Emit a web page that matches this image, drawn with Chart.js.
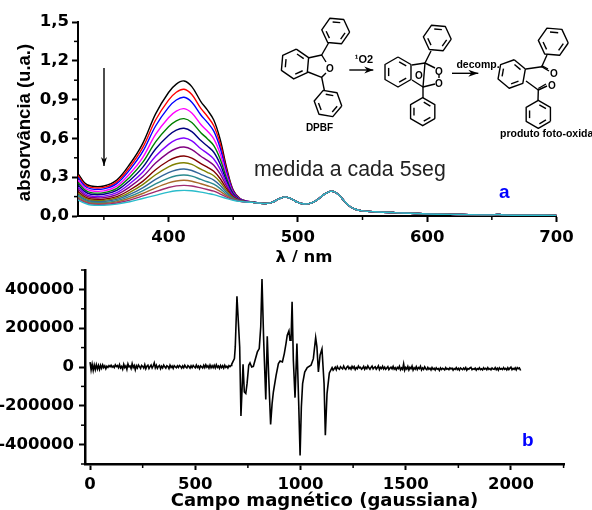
<!DOCTYPE html>
<html><head><meta charset="utf-8">
<style>html,body{margin:0;padding:0;background:#fff}
#w{position:relative;width:592px;height:510px;overflow:hidden}
canvas{position:absolute;left:0}</style>
<script src="https://cdn.jsdelivr.net/npm/chart.js@4"></script></head>
<body><div id="w"><canvas id="a" width="592" height="262" style="top:0"></canvas>
<canvas id="b" width="592" height="270" style="top:240px"></canvas></div>
<script>
// ---- panel a ----
const lambdaHead=[330,335,340,350,360,370,380,390,400,406,412,418,425,430,435,440,445,450,455,460,465];
const lambdaTail=[470,475,480,485,490,495,500,505,510,515,520,525,528,532,536,540,545,550,560,575,600,625,650,655,660,680,700];
const absTail=[.100,.097,.105,.130,.148,.133,.105,.093,.100,.125,.165,.190,.188,.160,.115,.075,.050,.040,.033,.026,.016,.012,.009,.012,.008,.006,.005];
const sBlack=[.330,.258,.232,.232,.278,.400,.560,.790,.955,1.020,1.044,1.000,.885,.820,.742,.590,.370,.200,.137,.116,.108];
const sRed=[.314,.246,.221,.221,.264,.378,.528,.742,.896,.957,.980,.939,.832,.771,.698,.557,.352,.194,.135,.115,.108];
const sBlue=[.299,.234,.210,.210,.250,.357,.497,.696,.840,.897,.918,.880,.781,.724,.656,.524,.335,.188,.133,.115,.108];
const sMagenta=[.278,.218,.195,.194,.231,.327,.452,.631,.760,.811,.830,.796,.708,.657,.596,.479,.311,.180,.131,.114,.107];
const sGreen=[.259,.204,.181,.181,.214,.300,.414,.573,.690,.736,.753,.723,.644,.598,.544,.439,.289,.173,.129,.113,.107];
const sNavy=[.241,.190,.168,.168,.198,.275,.376,.518,.622,.664,.678,.652,.583,.541,.493,.400,.268,.166,.127,.113,.107];
const sViolet=[.223,.176,.155,.154,.181,.249,.339,.462,.554,.590,.603,.581,.520,.484,.441,.361,.248,.159,.125,.112,.106];
const sPurple=[.206,.163,.143,.142,.166,.225,.303,.409,.490,.522,.533,.514,.462,.430,.393,.324,.228,.153,.123,.111,.106];
const sWine=[.189,.150,.131,.130,.150,.201,.268,.358,.427,.454,.464,.448,.405,.378,.346,.288,.209,.146,.121,.111,.106];
const sOlive=[.176,.140,.122,.121,.139,.183,.243,.319,.380,.404,.412,.399,.362,.338,.311,.261,.194,.142,.119,.110,.106];
const sRoyal=[.164,.131,.114,.112,.128,.167,.218,.283,.335,.356,.363,.352,.322,.301,.278,.236,.181,.137,.118,.110,.106];
const sTeal=[.153,.122,.106,.104,.118,.151,.195,.248,.293,.311,.317,.308,.283,.265,.246,.212,.168,.133,.116,.109,.105];
const sBrown=[.143,.115,.099,.097,.109,.137,.174,.218,.256,.271,.276,.269,.249,.234,.218,.190,.157,.129,.115,.109,.105];
const sMaroon=[.133,.107,.092,.090,.101,.123,.155,.189,.220,.233,.237,.232,.217,.205,.192,.170,.146,.126,.114,.108,.105];
const sCyan=[.124,.100,.085,.083,.092,.110,.135,.160,.185,.195,.198,.195,.185,.175,.165,.150,.135,.122,.113,.108,.105];
const seriesA=[sBlack,sRed,sBlue,sMagenta,sGreen,sNavy,sViolet,sPurple,sWine,sOlive,sRoyal,sTeal,sBrown,sMaroon,sCyan];
const coloursA=['#000000','#ff0000','#0000ff','#ff00ff','#008000','#000080','#8000ff','#800080','#800000','#808000','#336699','#2a8a8f','#a86a2a','#a02a70','#2abccb'];
const aXTicks=[400,500,600,700], aXMinor=[350,450,550,650];
const aYTicks=[0,.3,.6,.9,1.2,1.5], aYMinor=[.15,.45,.75,1.05,1.35];
// ---- panel b ----
const campoLeft=[0,5,10,15,20,25,30,35,40,45,50,55,60,65,70,75,80,85,90,95,100,105,110,115,120,125,130,135,140,145,150,155,160,165,170,175,180,185,190,195,200,205,210,215,220,225,230,235,240,245,250,255,260,265,270,275,280,285,290,295,300,305,310,315,320,325,330,335,340,345,350,355,360,365,370,375,380,385,390,395,400,405,410,415,420,425,430,435,440,445,450,455,460,465,470,475,480,485,490,495,500,505,510,515,520,525,530,535,540,545,550,555,560,565,570,575,580,585,590,595,600,605,610,615,620,625,630,635,640,645,650,655,660,665,670];
const signalLeft=[25000,-15000,14000,-17000,10000,-13000,12000,-10000,8000,-12000,9000,-6000,11000,-3000,6000,-9000,4000,-2000,7000,1000,9000,-1000,5000,-3000,11000,2000,7000,-4000,12000,-5000,3000,-11000,14000,-3000,6000,-12000,16000,1000,5000,-8000,17000,-3000,8000,-14000,6000,-5000,10000,2000,-7000,8000,3000,-6000,12000,-9000,4000,9000,-8000,2000,10000,-5000,5000,21000,-4000,9000,-7000,3000,8000,-9000,4000,-5000,10000,1000,-6000,7000,3000,-8000,9000,-2000,5000,-7000,7000,1000,-4000,6000,-2000,8000,3000,-6000,5000,-4000,9000,0,-5000,7000,2000,-6000,6000,-3000,8000,1000,-4000,10000,-2000,5000,-8000,6000,1000,-5000,9000,-3000,11000,-1000,6000,-6000,10000,-4000,7000,-3000,9000,-5000,11000,-2000,5000,-7000,8000,-3000,6000,-6000,9000,-2000,4000,-5000,7000,2000,8000];
const campoPeak=[673,686,690,698,706,711,717,724,727,733,740,746,754,760,768,776,784,795,804,811,817,825,835,842,849,858,865,871,884,895,903,914,923,931,937,945,950,955,960,966,974,983,991,998,1004,1010,1020,1032,1050,1061,1072,1078,1085,1093,1102,1112,1118,1126,1137,1150];
const signalPeak=[14000,43000,103500,365000,207000,103500,-252500,-68500,14000,-129000,-137000,-86000,9000,21000,300,3700,34700,77700,95000,207000,454000,138000,-168000,158500,-51000,-296000,-189000,-129000,-43000,17500,31000,26000,69000,120700,163700,186000,138000,138000,335700,34700,-158000,120700,-172000,-455500,-206000,-86000,-26000,-3000,9000,43000,151700,103500,-26000,60500,93000,-86000,-352000,-137000,-31000,-3000];
const campoRight=[1155,1160,1165,1170,1175,1180,1185,1190,1195,1200,1205,1210,1215,1220,1225,1230,1235,1240,1245,1250,1255,1260,1265,1270,1275,1280,1285,1290,1295,1300,1305,1310,1315,1320,1325,1330,1335,1340,1345,1350,1355,1360,1365,1370,1375,1380,1385,1390,1395,1400,1405,1410,1415,1420,1425,1430,1435,1440,1445,1450,1455,1460,1465,1470,1475,1480,1485,1490,1495,1500,1505,1510,1515,1520,1525,1530,1535,1540,1545,1550,1555,1560,1565,1570,1575,1580,1585,1590,1595,1600,1605,1610,1615,1620,1625,1630,1635,1640,1645,1650,1655,1660,1665,1670,1675,1680,1685,1690,1695,1700,1705,1710,1715,1720,1725,1730,1735,1740,1745,1750,1755,1760,1765,1770,1775,1780,1785,1790,1795,1800,1805,1810,1815,1820,1825,1830,1835,1840,1845,1850,1855,1860,1865,1870,1875,1880,1885,1890,1895,1900,1905,1910,1915,1920,1925,1930,1935,1940,1945,1950,1955,1960,1965,1970,1975,1980,1985,1990,1995,2000,2005,2010,2015,2020,2025,2030,2035,2040,2046];
const signalRight=[-16000,-9000,-1000,-14000,2000,-8000,-12000,1000,-5000,-10000,5000,-7000,-12000,-1000,4000,-9000,-2000,-11000,3000,-6000,2000,-13000,-3000,-9000,5000,-5000,-2000,-11000,-6000,3000,-12000,-1000,-8000,6000,-4000,-12000,-2000,5000,-10000,-3000,1000,-11000,-4000,6000,-13000,-2000,-8000,4000,-10000,-1000,-12000,-5000,2000,-13000,-6000,-1000,-9000,3000,-11000,-4000,-14000,-2000,-8000,4000,-14000,-5000,-12000,16000,-17000,-3000,-11000,3000,-15000,-2000,-9000,5000,-16000,-4000,-11000,2000,-13000,-3000,-8000,4000,-15000,-5000,-12000,1000,-9000,-14000,-2000,-11000,-6000,-15000,-3000,-12000,-7000,-16000,-4000,-11000,-8000,-18000,-5000,-13000,-7000,-10000,-15000,-3000,-11000,-8000,-14000,-4000,-10000,-6000,-16000,-8000,-12000,-3000,-13000,-7000,-16000,-5000,-10000,-14000,-6000,-12000,-3000,-17000,-8000,-11000,-5000,-2000,-14000,-9000,-12000,-6000,-16000,-8000,-12000,-4000,-13000,-9000,-15000,-4000,-11000,-7000,-14000,-3000,-12000,-8000,-15000,-5000,-10000,-12000,-3000,-14000,-6000,-16000,-4000,-11000,-8000,-13000,-3000,-12000,-7000,-15000,-4000,-13000,-6000,-1000,-14000,-7000,-12000,-4000,-15000,-3000,-9000,-5000,-18000];
const bXTicks=[0,500,1000,1500,2000], bXMinor=[250,750,1250,1750,2250];
const bYTicks=[-400000,-200000,0,200000,400000], bYMinor=[-500000,-300000,-100000,100000,300000,500000];

const tickFont={family:'"DejaVu Sans"',size:16.5,weight:'bold'};
const SANS='"Liberation Sans",Arial,sans-serif';

Chart.defaults.animation=false;
Chart.defaults.responsive=false;

function fixed(yWidth,xHeight){return {y:a=>{a.width=yWidth},x:a=>{a.height=xHeight}}}
const minorPlugin={id:'minor',afterDatasetsDraw(c,_,o){
  const g=c.ctx;g.save();g.strokeStyle='#000';g.lineWidth=1.5;
  o.x.forEach(v=>{const p=c.scales.x.getPixelForValue(v);g.beginPath();g.moveTo(p,c.chartArea.bottom);g.lineTo(p,c.chartArea.bottom+4);g.stroke()});
  o.y.forEach(v=>{const p=c.scales.y.getPixelForValue(v);g.beginPath();g.moveTo(c.chartArea.left,p);g.lineTo(c.chartArea.left-4,p);g.stroke()});
  g.restore();}};

function label(g,t,x,y,font,col,align){g.font=font;g.fillStyle=col||'#000';g.textAlign=align||'center';g.textBaseline='alphabetic';g.fillText(t,x,y)}
function seg(g,pts){g.beginPath();pts.forEach((p,i)=>i?g.lineTo(p[0],p[1]):g.moveTo(p[0],p[1]));g.stroke()}
function ring(g,cx,cy,r,rot){
  const v=[];for(let i=0;i<6;i++){const t=(rot+60*i)*Math.PI/180;v.push([cx+r*Math.cos(t),cy+r*Math.sin(t)])}
  seg(g,[...v,v[0]]);
  [0,2,4].forEach(i=>{const a=v[i],b=v[(i+1)%6],k=.72;
    const ax=cx+(a[0]-cx)*k,ay=cy+(a[1]-cy)*k,bx=cx+(b[0]-cx)*k,by=cy+(b[1]-cy)*k;
    seg(g,[[ax+(bx-ax)*.12,ay+(by-ay)*.12],[bx-(bx-ax)*.12,by-(by-ay)*.12]])});
}
function arrow(g,x1,y1,x2,y2,hl,hw){
  seg(g,[[x1,y1],[x2,y2]]);const d=Math.hypot(x2-x1,y2-y1),ux=(x2-x1)/d,uy=(y2-y1)/d;
  g.beginPath();g.moveTo(x2,y2);g.lineTo(x2-ux*hl-uy*hw,y2-uy*hl+ux*hw);g.lineTo(x2-ux*hl*.7,y2-uy*hl*.7);g.lineTo(x2-ux*hl+uy*hw,y2-uy*hl-ux*hw);g.closePath();g.fill();
}
const sketchA={id:'sketchA',afterDraw(c){
  const g=c.ctx;g.save();g.strokeStyle='#000';g.fillStyle='#000';g.lineWidth=1.4;g.lineJoin='round';
  ring(g,295,64,15,-90+5);ring(g,335.7,31,14,5);ring(g,328,103.5,14,10);
  seg(g,[[308,58],[321.7,55],[326,62]]);seg(g,[[308,72],[321.7,77.3],[326,73]]);seg(g,[[321.7,55],[328.5,43]]);seg(g,[[321.7,77.3],[324.5,91]]);
  ring(g,398,72,15,-90);ring(g,437.3,38,14,5);ring(g,422.7,111.7,14,30);
  seg(g,[[412,65],[425,63],[423,87],[412,80]]);seg(g,[[425,63],[435,68]]);seg(g,[[423,87],[435,84]]);seg(g,[[439,74],[439,78]]);seg(g,[[425,63],[431,51]]);seg(g,[[423,87],[423,98]]);
  ring(g,511.7,74,14.5,-80);ring(g,553.3,41.7,15,5);ring(g,538.3,114.3,14,30);
  seg(g,[[526,69],[541.7,66.7],[549,71]]);seg(g,[[541.7,65.7],[548,69]]);seg(g,[[526,81],[538.3,90],[547,86]]);seg(g,[[538.3,88.5],[546,84]]);seg(g,[[541.7,66.7],[547,55]]);seg(g,[[538.3,90],[538,100.5]]);
  arrow(g,349.3,70,373.3,70,9,3.5);arrow(g,452,73.3,478.3,73.3,10,3.5);arrow(g,104,68,104,166,9,3);
  const o='bold 10px '+SANS;
  label(g,'O',330,71.5,o);label(g,'O',419,78.5,o);label(g,'O',439,74.5,o);label(g,'O',439,86.5,o);label(g,'O',554,76.5,o);label(g,'O',552,88.5,o);
  label(g,'\u00b9O2',364,63,'bold 11px '+SANS);label(g,'decomp.',478,68,'bold 10.5px '+SANS);label(g,'DPBF',319.5,130.5,'bold 10px '+SANS);label(g,'produto foto-oxida',500,136.5,'bold 10.5px '+SANS,'#000','left');
  label(g,'medida a cada 5seg',254,176,'21.3px '+SANS,'#222','left');
  label(g,'a',499,198,'bold 19px '+SANS,'#0000ff','left');
  label(g,'\u03bb / nm',304,262,'bold 16.5px "DejaVu Sans"','#000');
  g.save();g.translate(29.5,122.5);g.rotate(-Math.PI/2);label(g,'absorv\u00e2ncia (u.a.)',0,0,'bold 18.5px '+SANS,'#000');g.restore();
  g.restore();}};
const sketchB={id:'sketchB',afterDraw(c){const g=c.ctx;g.save();label(g,'b',522,446-240,'bold 19px '+SANS,'#0000ff','left');g.restore();}};

const fa=fixed(78,46);
new Chart(document.getElementById('a'),{type:'line',
  data:{datasets:seriesA.map((s,i)=>({label:'t'+i,order:seriesA.length-i,borderColor:coloursA[i],borderWidth:1.4,pointRadius:0,tension:.35,
    data:[...lambdaHead.map((x,k)=>({x,y:s[k]})),...lambdaTail.map((x,k)=>({x,y:absTail[k]}))]}))},
  options:{layout:{autoPadding:false,padding:{top:22,left:0,right:35.5,bottom:0}},
    plugins:{legend:{display:false},tooltip:{enabled:false},minor:{x:aXMinor,y:aYMinor}},
    scales:{
      x:{type:'linear',min:330,max:700,afterFit:fa.x,afterBuildTicks:a=>{a.ticks=aXTicks.map(value=>({value}))},
        grid:{drawOnChartArea:false,tickColor:'#000',tickWidth:2,tickLength:6},border:{color:'#000',width:2},
        ticks:{color:'#000',font:tickFont,padding:6,maxRotation:0,autoSkip:false,callback:v=>String(v)}},
      y:{min:0,max:1.5,afterFit:fa.y,afterBuildTicks:a=>{a.ticks=aYTicks.map(value=>({value}))},
        grid:{drawOnChartArea:false,tickColor:'#000',tickWidth:2,tickLength:6},border:{color:'#000',width:2},
        ticks:{color:'#000',font:tickFont,padding:3,autoSkip:false,callback:v=>v.toFixed(1).replace('.',',')}}
    }},plugins:[minorPlugin,sketchA]});

const fb=fixed(85,46);
new Chart(document.getElementById('b'),{type:'line',
  data:{datasets:[{label:'EPR',borderColor:'#000',borderWidth:1.6,pointRadius:0,tension:0,
    data:[...campoLeft,...campoPeak,...campoRight].map((x,k)=>({x,y:[...signalLeft,...signalPeak,...signalRight][k]}))}]},
  options:{layout:{autoPadding:false,padding:{top:30,left:0,right:28,bottom:0}},
    plugins:{legend:{display:false},tooltip:{enabled:false},minor:{x:bXMinor,y:bYMinor}},
    scales:{
      x:{type:'linear',min:-24,max:2252,afterFit:fb.x,afterBuildTicks:a=>{a.ticks=bXTicks.map(value=>({value}))},
        grid:{drawOnChartArea:false,tickColor:'#000',tickWidth:2,tickLength:6},border:{color:'#000',width:2.5},
        ticks:{color:'#000',font:tickFont,padding:5,maxRotation:0,autoSkip:false,callback:v=>String(v)},
        title:{display:true,text:'Campo magn\u00e9tico (gaussiana)',color:'#000',font:{family:'"DejaVu Sans"',size:18,weight:'bold'},padding:{top:0,bottom:-2}}},
      y:{min:-500000,max:500000,afterFit:fb.y,afterBuildTicks:a=>{a.ticks=bYTicks.map(value=>({value}))},
        grid:{drawOnChartArea:false,tickColor:'#000',tickWidth:2,tickLength:6},border:{color:'#000',width:2.5},
        ticks:{color:'#000',font:tickFont,padding:5,autoSkip:false,callback:v=>String(v)}}
    }},plugins:[minorPlugin,sketchB]});
</script></body></html>
